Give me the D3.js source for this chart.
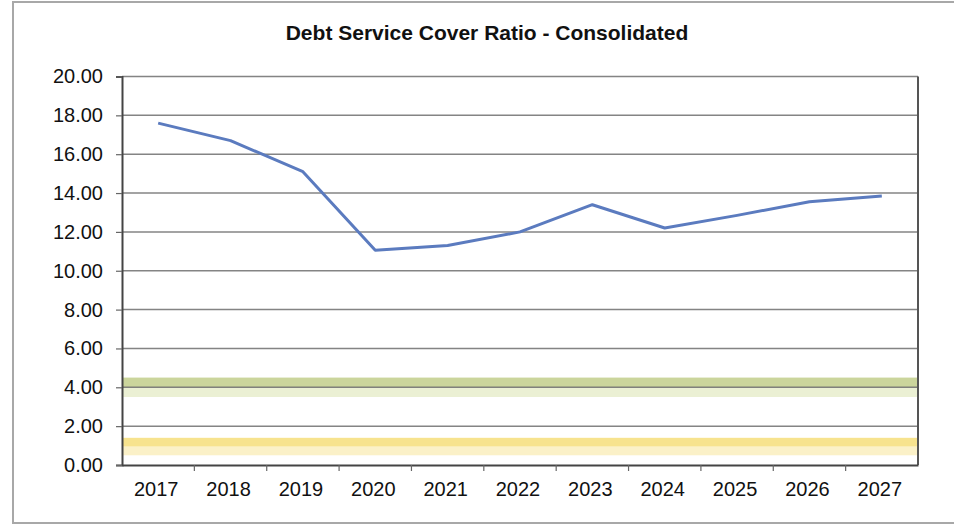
<!DOCTYPE html>
<html>
<head>
<meta charset="utf-8">
<script src="https://cdn.jsdelivr.net/npm/d3@7"></script>
<style>
  html, body { margin: 0; padding: 0; background: #fff; }
  svg { display: block; }
  text { font-family: "Liberation Sans", Arial, sans-serif; fill: #111; }
</style>
</head>
<body>
<script>
// ---- data ----
const titleText = "Debt Service Cover Ratio - Consolidated";
const years = ["2017","2018","2019","2020","2021","2022","2023","2024","2025","2026","2027"];
const dscr  = [17.6, 16.7, 15.1, 11.05, 11.3, 12.0, 13.4, 12.2, 12.85, 13.55, 13.85];
const yTicks = [0, 2, 4, 6, 8, 10, 12, 14, 16, 18, 20];
// threshold bands (low, mid, high)
const bandNames = ["target", "minimum"];
const bandLow  = [3.5, 0.5];
const bandMid  = [4.0, 0.95];
const bandHigh = [4.5, 1.4];
const bandDark  = ["#cbd59c", "#f7e38e"];
const bandLight = ["#ebf0d4", "#fbf1c8"];

// ---- layout ----
const W = 954, H = 527;
const m = { left: 122, right: 918, top: 76.5, bottom: 465 };

const svg = d3.select("body").append("svg").attr("width", W).attr("height", H);

// outer frame
svg.append("rect").attr("x", 13).attr("y", 2).attr("width", W + 5).attr("height", 521)
  .attr("fill", "#fff").attr("stroke", "#a8a8a8").attr("stroke-width", 2);

const x = d3.scaleBand().domain(years).range([m.left, m.right]);
const y = d3.scaleLinear().domain([0, 20]).range([m.bottom, m.top]);

// title
svg.append("text").attr("x", 487).attr("y", 40).attr("text-anchor", "middle")
  .style("font-size", "21px").style("font-weight", "bold").text(titleText);

// bands
const bands = svg.append("g");
bandNames.forEach((n, i) => {
  bands.append("rect").attr("x", m.left).attr("width", m.right - m.left)
    .attr("y", y(bandMid[i])).attr("height", y(bandLow[i]) - y(bandMid[i]))
    .attr("fill", bandLight[i]);
  bands.append("rect").attr("x", m.left).attr("width", m.right - m.left)
    .attr("y", y(bandHigh[i])).attr("height", y(bandMid[i]) - y(bandHigh[i]))
    .attr("fill", bandDark[i]);
});

// gridlines
svg.append("g").selectAll("line").data(yTicks.filter(d => d > 0)).join("line")
  .attr("x1", m.left).attr("x2", m.right)
  .attr("y1", d => y(d)).attr("y2", d => y(d))
  .attr("stroke", "#6e6e6e").attr("stroke-width", 1.5).attr("stroke-opacity", 0.85);

// right border
svg.append("line").attr("x1", m.right).attr("x2", m.right).attr("y1", m.top).attr("y2", m.bottom)
  .attr("stroke", "#555").attr("stroke-width", 2);

// y axis
const yAxis = svg.append("g").attr("transform", `translate(${m.left},0)`)
  .call(d3.axisLeft(y).tickValues(yTicks).tickFormat(d3.format(".2f")).tickSize(6).tickPadding(13));
yAxis.select(".domain").attr("stroke", "#444").attr("stroke-width", 2);
yAxis.selectAll(".tick line").attr("stroke", "#666").attr("stroke-width", 1.2);
yAxis.selectAll("text").style("font-size", "20px").attr("fill", "#111");

// x axis
const xAxis = svg.append("g").attr("transform", `translate(0,${m.bottom})`)
  .call(d3.axisBottom(x).tickSize(0).tickPadding(17));
xAxis.select(".domain").attr("stroke", "#444").attr("stroke-width", 2);
xAxis.selectAll("text").style("font-size", "20px").attr("fill", "#111").attr("dx", "-2");
// category boundary ticks
svg.append("g").selectAll("line").data(years.slice(1)).join("line")
  .attr("x1", d => x(d)).attr("x2", d => x(d))
  .attr("y1", m.bottom).attr("y2", m.bottom + 6)
  .attr("stroke", "#666").attr("stroke-width", 1.2);

// series line
const line = d3.line().x((d, i) => x(years[i]) + x.bandwidth() / 2).y(d => y(d));
svg.append("path").datum(dscr).attr("d", line)
  .attr("fill", "none").attr("stroke", "#5b7bbf").attr("stroke-width", 3)
  .attr("stroke-linejoin", "round");
</script>
</body>
</html>
